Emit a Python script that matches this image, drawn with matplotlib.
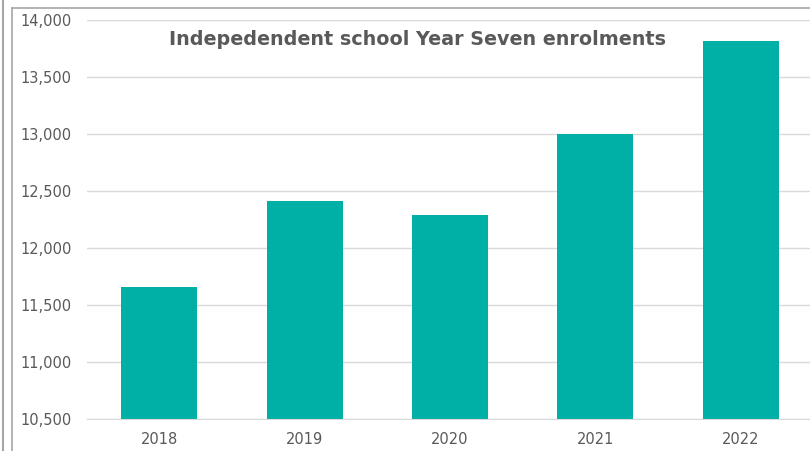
import matplotlib
matplotlib.use("Agg")
import matplotlib.pyplot as plt
from matplotlib.lines import Line2D
from matplotlib.ticker import FuncFormatter, MultipleLocator

# Year Seven enrolments at independent schools
years = ["2018", "2019", "2020", "2021", "2022"]
enrolments = [11657, 12416, 12288, 13000, 13816]

TEAL = "#00AFA5"
GRID = "#D9D9D9"
TEXT = "#595959"


def main() -> None:
    fig = plt.figure(figsize=(8.1, 4.51), dpi=100)
    ax = fig.add_axes([0.107, 0.0703, 0.897, 0.8854])

    x = range(len(years))
    ax.bar(x, enrolments, width=0.523, color=TEAL, zorder=2)

    ax.set_xlim(-0.5, len(years) - 0.5)
    ax.set_ylim(10500, 14000)
    ax.yaxis.set_major_locator(MultipleLocator(500))
    ax.yaxis.set_major_formatter(FuncFormatter(lambda v, _: f"{v:,.0f}"))
    ax.set_xticks(list(x))
    ax.set_xticklabels(years)

    ax.grid(axis="y", color=GRID, linewidth=1.0, zorder=0)
    for side in ("top", "right", "left"):
        ax.spines[side].set_visible(False)
    ax.spines["bottom"].set_color(GRID)
    ax.tick_params(axis="both", length=0, colors=TEXT, labelsize=10.5)
    ax.tick_params(axis="x", pad=9.5)
    ax.tick_params(axis="y", pad=11)

    fig.text(0.515, 0.912, "Indepedendent school Year Seven enrolments",
             ha="center", va="center", fontsize=13.8, fontweight="bold",
             color=TEXT)

    # frame lines of the surrounding chart area
    fig.add_artist(Line2D([3 / 810, 3 / 810], [0, 1], color="#A6A6A6",
                          linewidth=1.5, transform=fig.transFigure))
    fig.add_artist(Line2D([12 / 810, 12 / 810], [0, 1 - 8 / 451],
                          color="#A6A6A6", linewidth=1.2,
                          transform=fig.transFigure))
    fig.add_artist(Line2D([12 / 810, 1], [1 - 8 / 451, 1 - 8 / 451],
                          color="#A6A6A6", linewidth=1.2,
                          transform=fig.transFigure))

    fig.savefig("out.png", dpi=100)
    plt.close(fig)


if __name__ == "__main__":
    main()
